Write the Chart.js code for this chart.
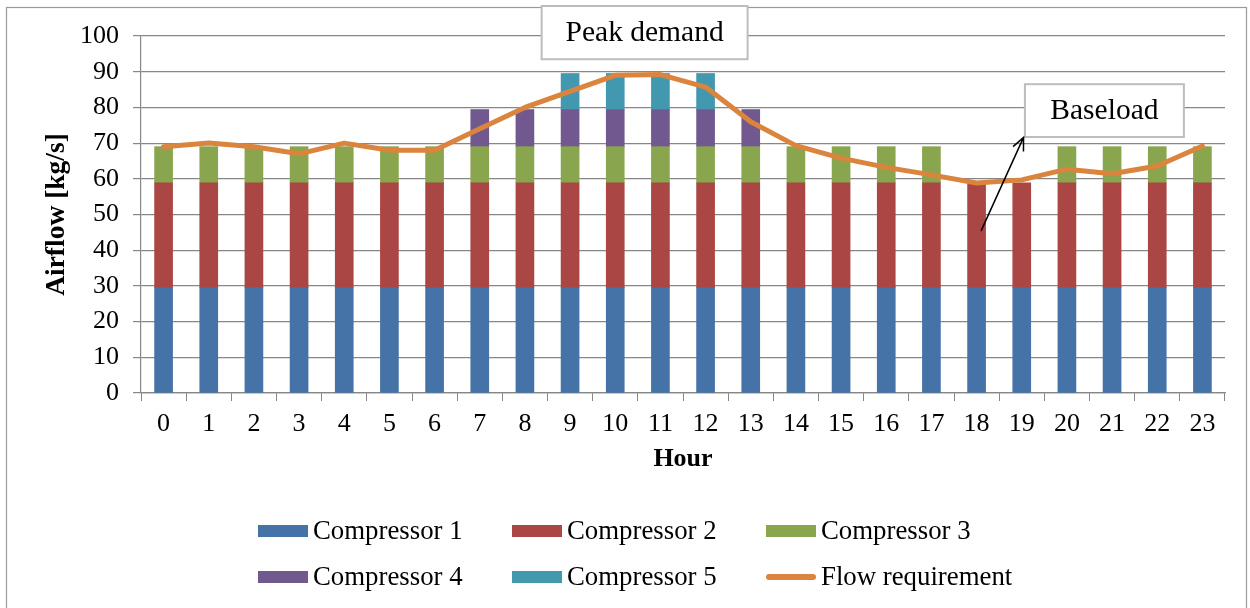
<!DOCTYPE html>
<html>
<head>
<meta charset="utf-8">
<script src="https://cdn.jsdelivr.net/npm/chart.js@4/dist/chart.umd.min.js"></script>
<style>
  html, body { margin: 0; padding: 0; background: #ffffff; }
  #wrap { width: 1250px; height: 608px; position: relative; }
</style>
</head>
<body>
<div id="wrap"><canvas id="chart" width="1250" height="608"></canvas></div>
<script>
// Hourly compressor schedule and airflow demand
const hours = ['0','1','2','3','4','5','6','7','8','9','10','11','12','13','14','15','16','17','18','19','20','21','22','23'];
const compressor1 = [29.5,29.5,29.5,29.5,29.5,29.5,29.5,29.5,29.5,29.5,29.5,29.5,29.5,29.5,29.5,29.5,29.5,29.5,29.5,29.5,29.5,29.5,29.5,29.5];
const compressor2 = [29.4,29.4,29.4,29.4,29.4,29.4,29.4,29.4,29.4,29.4,29.4,29.4,29.4,29.4,29.4,29.4,29.4,29.4,29.4,29.4,29.4,29.4,29.4,29.4];
const compressor3 = [10.1,10.1,10.1,10.1,10.1,10.1,10.1,10.1,10.1,10.1,10.1,10.1,10.1,10.1,10.1,10.1,10.1,10.1,null,null,10.1,10.1,10.1,10.1];
const compressor4 = [null,null,null,null,null,null,null,10.4,10.4,10.4,10.4,10.4,10.4,10.4,null,null,null,null,null,null,null,null,null,null];
const compressor5 = [null,null,null,null,null,null,null,null,null,10.1,10.1,10.1,10.1,null,null,null,null,null,null,null,null,null,null,null];
const flowRequirement = [69,70,69,67,70,68,68,74,80,84.5,89,89.2,85.7,76,69.3,65.8,63.2,61.1,58.8,59.7,62.7,61.4,63.6,69.2];
const yTicks = [0,10,20,30,40,50,60,70,80,90,100];

const SERIF = '"Liberation Serif", "Times New Roman", serif';
const GRID = '#878787';

// Callout boxes and arrow, placed in data units (hour, airflow)
const callouts = [
  { text: 'Peak demand', x0: 8.37, x1: 12.93, y0: 93.5, y1: 108.4 },
  { text: 'Baseload', x0: 19.07, x1: 22.59, y0: 71.7, y1: 86.5 }
];
const arrow = { from: [18.1, 45.4], to: [19.04, 71.6] };

const framePlugin = {
  id: 'frame',
  beforeDraw(chart) {
    const c = chart.ctx;
    c.save();
    c.fillStyle = '#ffffff';
    c.fillRect(0, 0, chart.width, chart.height);
    c.strokeStyle = '#9a9a9a';
    c.lineWidth = 1.2;
    c.strokeRect(6.5, 7.5, 1240, 620);
    c.restore();
  }
};

const calloutPlugin = {
  id: 'callouts',
  afterDraw(chart) {
    const c = chart.ctx;
    const xs = chart.scales.x, ys = chart.scales.y;
    const px = v => xs.getPixelForValue(0) + v * (xs.getPixelForValue(1) - xs.getPixelForValue(0));
    c.save();
    callouts.forEach(b => {
      const l = px(b.x0), r = px(b.x1), t = ys.getPixelForValue(b.y1), btm = ys.getPixelForValue(b.y0);
      c.fillStyle = '#ffffff';
      c.fillRect(l, t, r - l, btm - t);
      c.strokeStyle = '#bdbdbd';
      c.lineWidth = 2;
      c.strokeRect(l, t, r - l, btm - t);
      c.fillStyle = '#000000';
      c.font = '29.5px ' + SERIF;
      c.textAlign = 'center';
      c.textBaseline = 'middle';
      c.fillText(b.text, (l + r) / 2, (t + btm) / 2 + 1);
    });
    // arrow toward the baseload box
    const x1 = px(arrow.from[0]), y1 = ys.getPixelForValue(arrow.from[1]);
    const x2 = px(arrow.to[0]), y2 = ys.getPixelForValue(arrow.to[1]);
    c.strokeStyle = '#000000';
    c.lineWidth = 1.5;
    c.beginPath();
    c.moveTo(x1, y1);
    c.lineTo(x2, y2);
    const ang = Math.atan2(y2 - y1, x2 - x1);
    const head = 14, spread = 0.42;
    c.moveTo(x2 - head * Math.cos(ang - spread), y2 - head * Math.sin(ang - spread));
    c.lineTo(x2, y2);
    c.lineTo(x2 - head * Math.cos(ang + spread), y2 - head * Math.sin(ang + spread));
    c.stroke();
    c.restore();
  }
};

// Two-row legend laid out in three fixed columns
const legendPlugin = {
  id: 'gridLegend',
  afterDraw(chart) {
    const c = chart.ctx;
    const cols = [258, 512, 766];
    const rows = [531, 577];
    c.save();
    c.font = '26.8px ' + SERIF;
    c.textBaseline = 'middle';
    c.textAlign = 'left';
    chart.data.datasets.forEach((ds, i) => {
      const x = cols[i % 3], y = rows[Math.floor(i / 3)];
      if (ds.type === 'line') {
        c.strokeStyle = ds.borderColor;
        c.lineWidth = 6;
        c.lineCap = 'round';
        c.beginPath();
        c.moveTo(x + 3, y);
        c.lineTo(x + 47, y);
        c.stroke();
      } else {
        c.fillStyle = ds.backgroundColor;
        c.fillRect(x, y - 6, 50, 12);
      }
      c.fillStyle = '#000000';
      c.fillText(ds.label, x + 55, y + 1);
    });
    c.restore();
  }
};

new Chart(document.getElementById('chart'), {
  data: {
    labels: hours,
    datasets: [
      { type: 'bar', label: 'Compressor 1', data: compressor1, backgroundColor: '#4572A7', order: 1, stack: 'units' },
      { type: 'bar', label: 'Compressor 2', data: compressor2, backgroundColor: '#AA4643', order: 1, stack: 'units' },
      { type: 'bar', label: 'Compressor 3', data: compressor3, backgroundColor: '#89A54E', order: 1, stack: 'units' },
      { type: 'bar', label: 'Compressor 4', data: compressor4, backgroundColor: '#71588F', order: 1, stack: 'units' },
      { type: 'bar', label: 'Compressor 5', data: compressor5, backgroundColor: '#4198AF', order: 1, stack: 'units' },
      { type: 'line', label: 'Flow requirement', data: flowRequirement, borderColor: '#DB843D', backgroundColor: '#DB843D',
        borderWidth: 5, pointRadius: 0, tension: 0, order: 0, stack: 'flow', borderJoinStyle: 'round', borderCapStyle: 'round' }
    ]
  },
  options: {
    responsive: false,
    animation: false,
    devicePixelRatio: 1,
    layout: { padding: { left: 0, right: 25, top: 36, bottom: 125 } },
    datasets: { bar: { barThickness: 18 } },
    plugins: { legend: { display: false }, tooltip: { enabled: false } },
    scales: {
      x: {
        stacked: true,
        offset: true,
        grid: { display: true, drawOnChartArea: false, drawTicks: true, tickLength: 8, color: GRID, offset: true },
        border: { display: true, color: GRID, width: 1.2 },
        ticks: { color: '#000', font: { family: SERIF, size: 26 }, padding: 8, maxRotation: 0, autoSkip: false },
        title: { display: true, text: 'Hour', color: '#000', font: { family: SERIF, size: 26, weight: 'bold' }, padding: { top: 0, bottom: 8 } },
        afterFit(scale) { scale.height = 90; }
      },
      y: {
        stacked: true,
        min: 0, max: 100,
        afterBuildTicks(scale) { scale.ticks = yTicks.map(v => ({ value: v })); },
        grid: { color: GRID, lineWidth: 1.2, drawTicks: true, tickLength: 8 },
        border: { display: true, color: GRID, width: 1.2 },
        ticks: { color: '#000', font: { family: SERIF, size: 26 }, padding: 14 },
        title: { display: true, text: 'Airflow [kg/s]', color: '#000', font: { family: SERIF, size: 27.5, weight: 'bold' }, padding: { top: 40, bottom: 0 } },
        afterFit(scale) { scale.width = 141; }
      }
    }
  },
  plugins: [framePlugin, calloutPlugin, legendPlugin]
});
</script>
</body>
</html>
